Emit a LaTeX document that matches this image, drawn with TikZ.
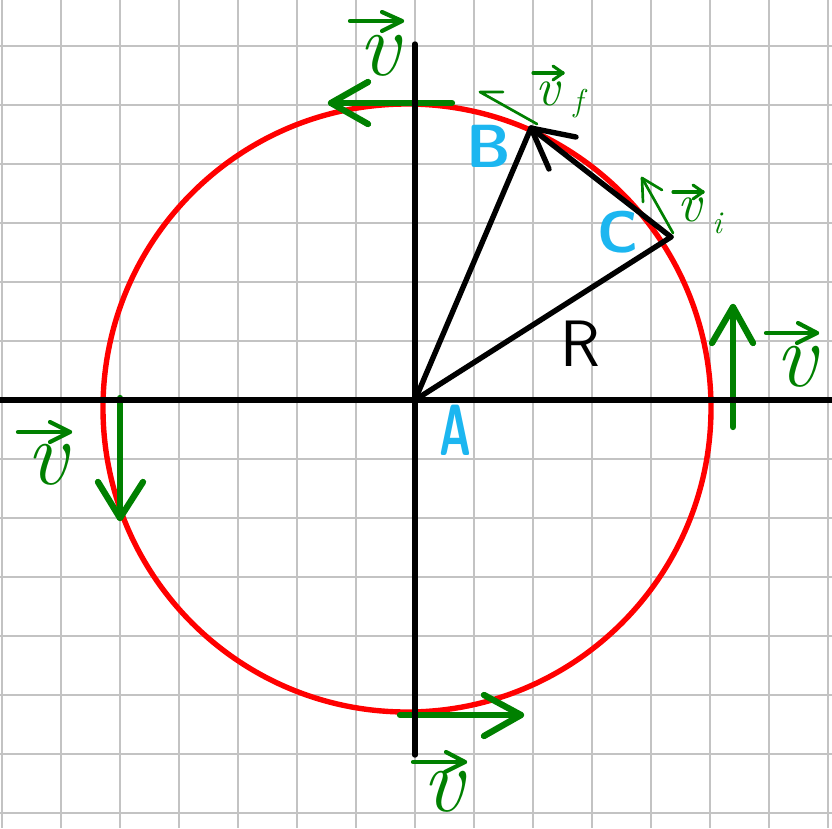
\documentclass[tikz,border=0pt]{standalone}
\usetikzlibrary{calc}
\definecolor{vgreen}{RGB}{0,128,0}
\definecolor{lblcyan}{RGB}{28,182,240}
\definecolor{gridgray}{RGB}{195,195,195}
\begin{document}
\begin{tikzpicture}[x=0.03cm,y=-0.03cm,
 gridline/.style={draw=gridgray,line width=1.8pt},
 axis/.style={draw=black,line width=4.6pt,line cap=round},
 orbit/.style={draw=red,line width=4.6pt},
 vthick/.style={draw=vgreen,line width=5.4pt,line cap=round,line join=round},
 vthin/.style={draw=vgreen,line width=2.3pt,line cap=round,line join=round},
 vbar/.style={draw=vgreen,line width=3.6pt,line cap=round,line join=round},
 vlbl/.style={text=vgreen,inner sep=0pt,font=\fontsize{78}{78}\selectfont\itshape},
 vsmall/.style={text=vgreen,inner sep=0pt,font=\fontsize{46}{46}\selectfont\itshape},
 subl/.style={text=vgreen,inner sep=0pt,font=\fontsize{27}{27}\selectfont\itshape},
 ptlbl/.style={text=lblcyan,inner sep=0pt,font=\fontsize{52}{52}\selectfont\sffamily\bfseries},
 seg/.style={draw=black,line width=4.6pt,line cap=round,line join=round}]
\useasboundingbox (0,0) rectangle (832,828);
\begin{scope}
\clip (0,0) rectangle (832,828);
\foreach \k in {-7,...,7}{
 \draw[gridline] (415+59*\k,0) -- (415+59*\k,828);
 \draw[gridline] (0,400+59*\k) -- (832,400+59*\k);
}
\end{scope}
% orbit
\coordinate (O) at (407,408);
\draw[orbit] (O) circle[radius=9.12cm];
% thick velocity arrows
\draw[vthick] (452,103) -- (331,103);
\draw[vthick] (368,82) -- (331,103) -- (368,124);
\draw[vthick] (120,398) -- (120,518);
\draw[vthick] (98,482) -- (120,518) -- (143,482);
\draw[vthick] (733,427) -- (733,307);
\draw[vthick] (712,343) -- (733,307) -- (753,343);
\draw[vthick] (400,715) -- (521,715);
\draw[vthick] (484,695) -- (521,715) -- (484,736);
% axes
\draw[axis] (0,400) -- (832,400);
\draw[axis] (415,44) -- (415,755);
% triangle
\coordinate (A) at (415,400);
\coordinate (B) at (531,128);
\coordinate (C) at (671,237);
\draw[seg] (A) -- (B);
\draw[seg] (A) -- (C);
\draw[seg] (C) -- (B);
\draw[seg] (576,137) -- (B) -- (549,169);
% thin velocity arrows at B and C
\draw[vthin] (537,124) -- (480,92) -- (503,92);
\draw[vthin] (673,233) -- (642,178);
\draw[vthin] (662,190) -- (642,178) -- (643,202);
% point labels
\node[ptlbl] (lB) at (489,146) {B};
\node[ptlbl,font=\fontsize{50}{50}\selectfont\sffamily\bfseries] (lC) at (618,232) {C};
\node[ptlbl,font=\fontsize{62}{62}\selectfont\sffamily\bfseries] (lA) at (455,430) {\scalebox{0.6}[1]{A}};
\node[ptlbl,text=black,font=\fontsize{56}{56}\selectfont\sffamily] (lR) at (580,344) {R};
% vector labels
\node[vlbl] (vT) at (379,56) {v};
\draw[vbar] (350,21) -- (402,21);
\draw[vbar] (382,12) -- (402,21) -- (382,31);
\node[vlbl] (vR) at (796,367) {v};
\draw[vbar] (766,333) -- (817,333);
\draw[vbar] (798,323) -- (817,333) -- (797,343);
\node[vlbl] (vL) at (47,465) {v};
\draw[vbar] (18,432) -- (70,432);
\draw[vbar] (50,422) -- (70,432) -- (50,442);
\node[vlbl] (vB) at (443,792) {v};
\draw[vbar] (413,762) -- (465,762);
\draw[vbar] (446,752) -- (465,762) -- (445,772);
\node[vsmall] (vf) at (548,94) {v};
\node[subl] (sf) at (578,104) {f};
\draw[vbar,line width=2.6pt] (533,73) -- (563,73);
\draw[vbar,line width=2.6pt] (553,66) -- (563,73) -- (553,80);
\node[vsmall] (vi) at (690,210) {v};
\node[subl] (si) at (717,223) {i};
\draw[vbar,line width=2.6pt] (673,192) -- (703,192);
\draw[vbar,line width=2.6pt] (693,185) -- (703,192) -- (693,199);
\end{tikzpicture}
\end{document}
